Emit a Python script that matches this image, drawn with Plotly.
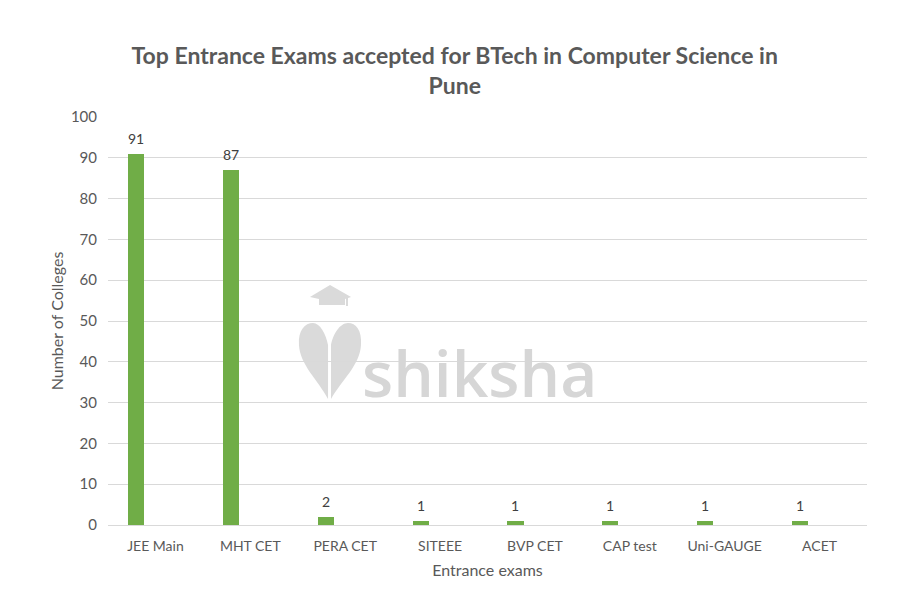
import plotly.graph_objects as go

categories = ["JEE Main", "MHT CET", "PERA CET", "SITEEE", "BVP CET", "CAP test", "Uni-GAUGE", "ACET"]
colleges = [91, 87, 2, 1, 1, 1, 1, 1]
y_ticks = [0, 10, 20, 30, 40, 50, 60, 70, 80, 90, 100]

FONT = "Lato, 'Open Sans', sans-serif"
GRAY = "#595959"
BAR_OFFSET = -0.29
BAR_WIDTH = 0.17

# page offset (body margin) and plot-area geometry in pixels for watermark placement
OFF = 8
PL, PR, PT, PB = 108, 867, 117, 525


def px(xp, yp):
    return (xp - PL) / (PR - PL), (PB - yp) / (PB - PT)


def path(cmds):
    out = []
    for cmd, pts in cmds:
        s = cmd
        for (a, b) in pts:
            u, v = px(a, b)
            s += f" {u:.4f},{v:.4f}"
        out.append(s)
    return " ".join(out) + " Z"


fig = go.Figure()
fig.add_trace(go.Bar(
    x=categories, y=colleges,
    marker=dict(color="#70AD47", line=dict(width=0)),
    width=BAR_WIDTH, offset=BAR_OFFSET,
    hoverinfo="x+y",
))

# data labels
for i, v in enumerate(colleges):
    fig.add_annotation(x=i + BAR_OFFSET + BAR_WIDTH / 2, y=v, text=str(v), showarrow=False,
                       yanchor="bottom", yshift=5,
                       font=dict(family=FONT, size=14, color="#404040"))

# watermark logo (decorative)
WM = "#dadada"
logo_left = path([
    ("M", [(328, 399)]),
    ("C", [(318, 380), (300, 365), (299, 345)]),
    ("C", [(298, 330), (305, 323), (313, 323)]),
    ("C", [(320, 323), (326, 334), (328, 345)]),
])
logo_right = path([
    ("M", [(331, 345)]),
    ("C", [(333, 334), (340, 323), (348, 323)]),
    ("C", [(356, 323), (362, 330), (361, 345)]),
    ("C", [(360, 365), (342, 380), (331, 399)]),
])
cap = path([
    ("M", [(310, 297)]),
    ("L", [(330, 285)]),
    ("L", [(351, 297)]),
    ("L", [(345, 299)]),
    ("L", [(345, 305)]),
    ("L", [(319, 305)]),
    ("L", [(319, 299)]),
])
tassel = path([
    ("M", [(346, 297)]),
    ("L", [(348, 297)]),
    ("L", [(348, 306)]),
    ("L", [(346, 306)]),
])
for p in (logo_left, logo_right, cap, tassel):
    fig.add_shape(type="path", path=p, xref="paper", yref="paper",
                  fillcolor=WM, line=dict(width=0), layer="below")

fig.add_annotation(text="shiksha", x=px(360, 0)[0], y=px(0, 372)[1], xref="paper", yref="paper",
                   xanchor="left", yanchor="middle",
                   showarrow=False,
                   font=dict(family="'Open Sans', sans-serif", size=64, color="#d6d6d6", weight=600))

fig.update_layout(
    width=923, height=611,
    paper_bgcolor="white", plot_bgcolor="white",
    margin=dict(l=PL - OFF, r=923 + OFF - PR, t=PT - OFF, b=611 + OFF - PB),
    title=dict(text="<b>Top Entrance Exams accepted for BTech in Computer Science in<br>Pune</b>",
               x=0.484, xanchor="center", y=0.909, yanchor="top",
               font=dict(family=FONT, size=23, color=GRAY)),
    showlegend=False,
    bargap=0,
    xaxis=dict(range=[-0.5, 7.5], showgrid=False, showline=True, linecolor="#d9d9d9",
               linewidth=1, ticks="", ticklabelstandoff=8,
               tickfont=dict(family=FONT, size=14, color=GRAY),
               title=dict(text="Entrance exams", font=dict(family=FONT, size=16, color=GRAY), standoff=12)),
    yaxis=dict(range=[0, 100], tickvals=y_ticks, showgrid=True, gridcolor="#d9d9d9",
               gridwidth=1, zeroline=False, showline=False, ticks="",
               tickfont=dict(family=FONT, size=15, color=GRAY), ticklabelstandoff=10,
               title=dict(text="Number of Colleges", font=dict(family=FONT, size=16, color=GRAY), standoff=3)),
)

fig.write_html("out.html")
